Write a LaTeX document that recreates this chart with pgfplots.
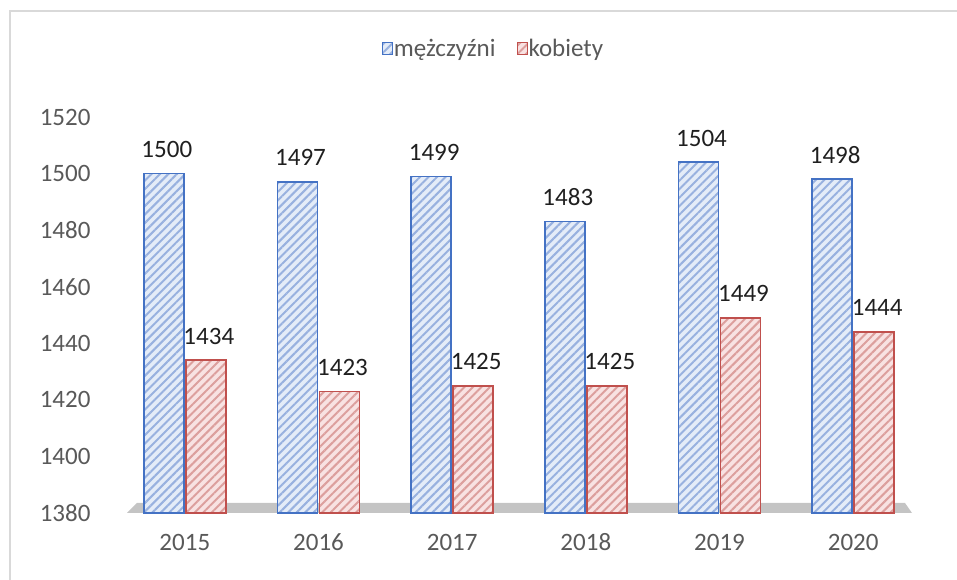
\documentclass[border=0pt]{standalone}
\usepackage{pgfplots}
\pgfplotsset{compat=1.18}
\usepackage{fontspec}
\setmainfont{Carlito}
\usetikzlibrary{patterns.meta}
\definecolor{mblue}{HTML}{4472C4}
\definecolor{mbluefill}{HTML}{E4ECF8}
\definecolor{mred}{HTML}{C0504D}
\definecolor{mredfill}{HTML}{F8E2E2}
\definecolor{txt}{HTML}{595959}
\definecolor{framec}{HTML}{D9D9D9}
\definecolor{floorc}{HTML}{C4C4C4}
\begin{document}
\begin{tikzpicture}
\useasboundingbox (-118pt,-67pt) rectangle (839pt,513pt);
\draw[line width=2.5pt, framec] (-108pt,-70pt) -- (-108pt,502pt) -- (845pt,502pt);
\fill[floorc] (9pt,0pt) -- (794pt,0pt) -- (787pt,10pt) -- (19pt,10pt) -- cycle;
\begin{axis}[
  at={(0pt,0pt)}, anchor=south west,
  scale only axis, width=802pt, height=396pt,
  xmin=-0.5, xmax=5.5, ymin=1380, ymax=1520,
  ytick={1380,1400,...,1520},
  xtick=data, xticklabels={2015,2016,2017,2018,2019,2020},
  axis line style={draw=none}, major tick length=0pt,
  ybar, bar width=40pt,
  tick label style={font=\fontsize{25}{29}\selectfont, text=txt},
  yticklabel style={xshift=-24pt},
  xticklabel style={yshift=-27pt, text height=0.72em, text depth=0pt},
  /pgf/number format/assume math mode=true,
  /pgf/number format/1000 sep={},
  nodes near coords,
  nodes near coords style={font=\fontsize{25}{29}\selectfont, text=black!88, yshift=12pt, xshift=3pt, text height=0.72em, text depth=0pt},
  legend style={at={(0.4676,1.1717)}, anchor=center, draw=none, fill=none,
    legend columns=2, font=\fontsize{25}{29}\selectfont, text=txt,
    nodes={inner sep=1pt},
    /tikz/every even column/.append style={column sep=20pt}},
  legend image code/.code={\draw[#1, line width=1pt] (0pt,-6pt) rectangle (10pt,6pt);},
]
\addplot[draw=mblue, line width=1.6pt, fill=mbluefill,
  postaction={pattern={Lines[angle=45,distance=6pt,line width=2pt]}, pattern color=mblue!55}]
  coordinates {(0,1500) (1,1497) (2,1499) (3,1483) (4,1504) (5,1498)};
\addplot[draw=mred, line width=1.6pt, fill=mredfill,
  postaction={pattern={Lines[angle=45,distance=6pt,line width=2pt]}, pattern color=mred!55}]
  coordinates {(0,1434) (1,1423) (2,1425) (3,1425) (4,1449) (5,1444)};
\legend{mężczyźni, kobiety}
\end{axis}
\end{tikzpicture}
\end{document}
